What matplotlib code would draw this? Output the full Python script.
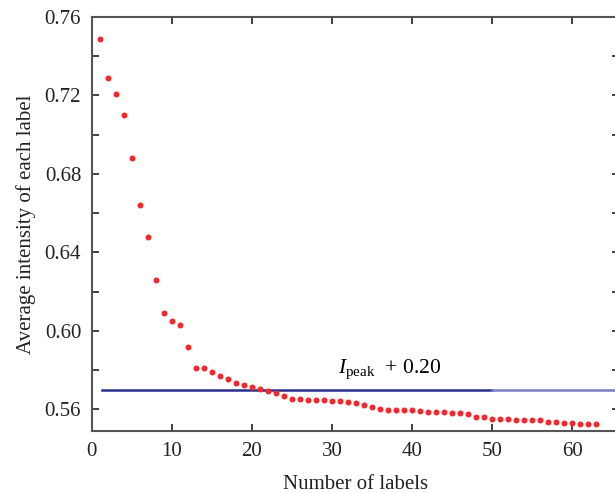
import numpy as np
import matplotlib
matplotlib.use('Agg')
import matplotlib.pyplot as plt
from matplotlib.ticker import MultipleLocator

plt.rcParams['font.family'] = ['Liberation Serif', 'DejaVu Serif']
plt.rcParams['mathtext.fontset'] = 'custom'
plt.rcParams['mathtext.rm'] = 'Liberation Serif'
plt.rcParams['mathtext.it'] = 'Liberation Serif:italic'

# number of labels and average intensity
n_labels = np.arange(1, 64)
avg_intensity = [
    0.749, 0.729, 0.721, 0.710, 0.688, 0.664, 0.648, 0.626, 0.609, 0.605,
    0.603, 0.592, 0.581, 0.581, 0.579, 0.577, 0.5755, 0.5736, 0.5725, 0.5713,
    0.5706, 0.5693, 0.5685, 0.5667, 0.5655, 0.5655, 0.5650, 0.5650, 0.5650, 0.5643,
    0.5643, 0.5638, 0.5631, 0.5624, 0.5612, 0.5604, 0.5597, 0.5597, 0.5597, 0.5597,
    0.5594, 0.5587, 0.5587, 0.5587, 0.5580, 0.5580, 0.5575, 0.5562, 0.5562, 0.5550,
    0.5550, 0.5550, 0.5545, 0.5545, 0.5545, 0.5545, 0.5538, 0.5538, 0.5533, 0.5533,
    0.5526, 0.5526, 0.5526,
]
threshold = 0.57
thr_x_dark = [1.25, 50]
thr_x_light = [50, 66]

fig = plt.figure(figsize=(6.15, 4.93), dpi=100)
ax = fig.add_axes([0.149, 0.1258, 0.857, 0.8397])

ax.plot(thr_x_dark, [threshold, threshold], color='#2b2f8f', lw=1.8, zorder=2)
ax.plot(thr_x_light, [threshold, threshold], color='#7a7dc0', lw=1.8, zorder=2)
ax.plot(n_labels, avg_intensity, 'o', color='#ee2a2f', ms=4.3, mec='none', zorder=3)

ax.text(30.7, 0.5786, r'$I_{\mathrm{peak}}$  + 0.20', fontsize=15.5, ha='left', va='baseline')

ax.set_xlim(0, 65.8)
ax.set_ylim(0.549, 0.76)
ax.xaxis.set_major_locator(MultipleLocator(10))
ax.yaxis.set_major_locator(MultipleLocator(0.04))
ax.yaxis.set_minor_locator(MultipleLocator(0.02))
ax.yaxis.set_major_formatter(plt.FuncFormatter(lambda v, p: '%.2f' % v))
ax.tick_params(which='both', direction='in', top=True, right=True,
               labelsize=15, colors='#333333', labelcolor='#222222')
ax.tick_params(which='major', length=5, width=1.3)
ax.tick_params(which='minor', length=5, width=1.3)
ax.tick_params(axis='x', pad=8)
ax.tick_params(axis='y', pad=7.5)
for s in ax.spines.values():
    s.set_color('#555555')
    s.set_linewidth(1.5)

ax.set_xlabel('Number of labels', fontsize=15, color='#222222', labelpad=10)
ax.set_ylabel('Average intensity of each label', fontsize=15, color='#222222', labelpad=6)

fig.savefig('out.png', dpi=100)
